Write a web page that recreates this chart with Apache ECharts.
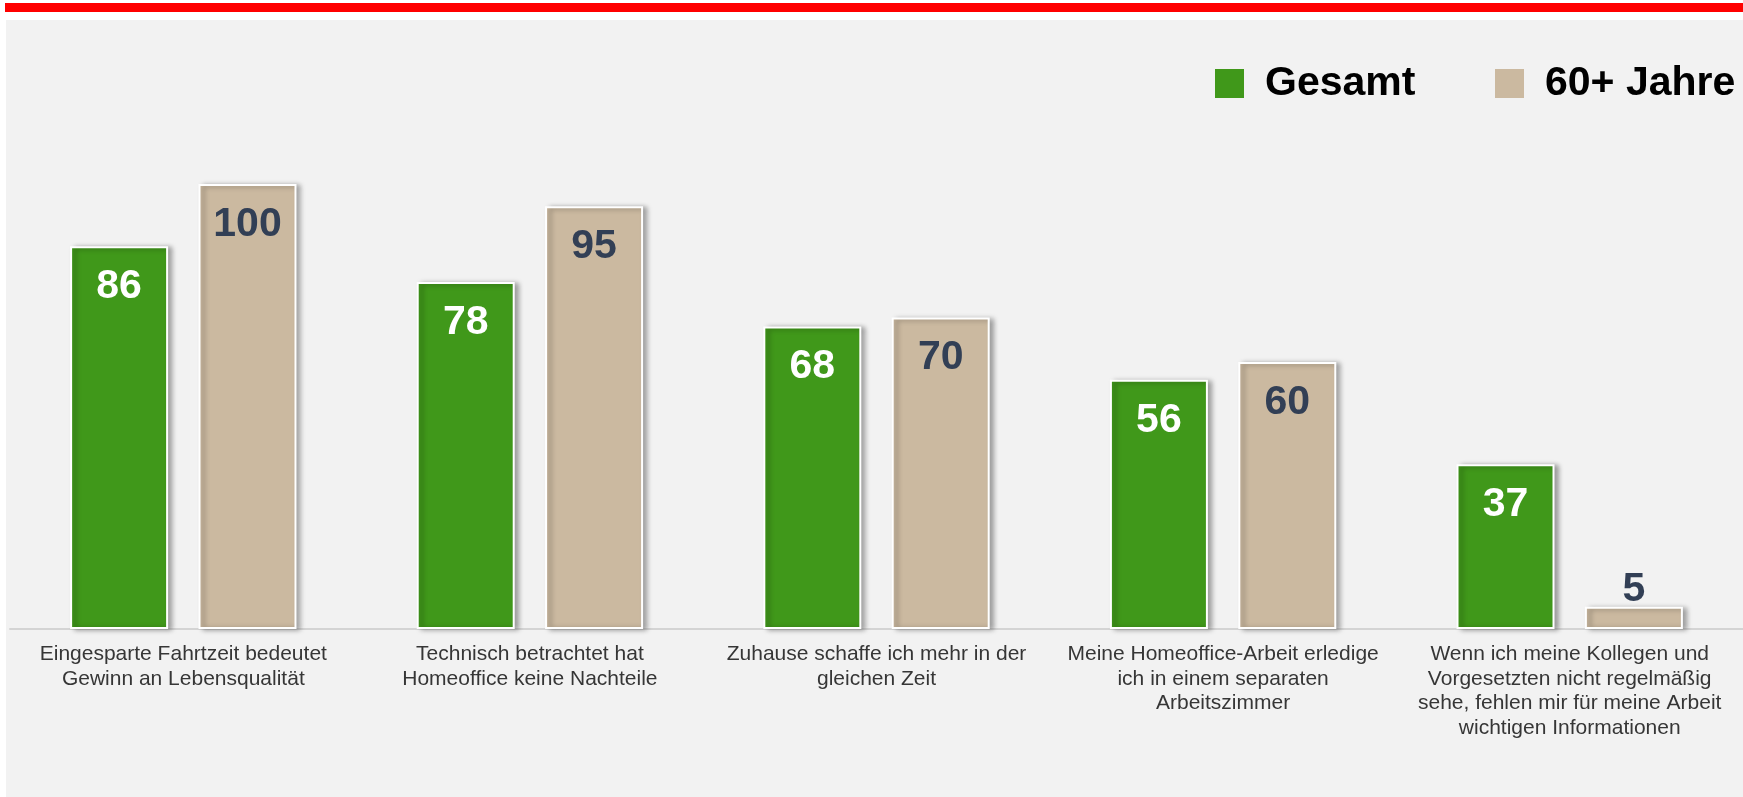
<!DOCTYPE html>
<html>
<head>
<meta charset="utf-8">
<script src="https://cdn.jsdelivr.net/npm/echarts@6/dist/echarts.min.js"></script>
<style>
  html, body { margin: 0; padding: 0; background: #fff; }
  #main { width: 1743px; height: 797px; }
</style>
</head>
<body>
<div id="main"></div>
<script>
// data
var categories = [
    'Eingesparte Fahrtzeit bedeutet\nGewinn an Lebensqualität',
    'Technisch betrachtet hat\nHomeoffice keine Nachteile',
    'Zuhause schaffe ich mehr in der\ngleichen Zeit',
    'Meine Homeoffice-Arbeit erledige\nich in einem separaten\nArbeitszimmer',
    'Wenn ich meine Kollegen und\nVorgesetzten nicht regelmäßig\nsehe, fehlen mir für meine Arbeit\nwichtigen Informationen'
];
var seriesNames = ['Gesamt', '60+ Jahre'];
var gesamtValues = [86, 78, 68, 56, 37];
var seniorValues = [100, 95, 70, 60, 5];

var FONT = 'Arial, "Liberation Sans", sans-serif';

var myChart = echarts.init(document.getElementById('main'));

function barItems(values) {
    // short bars get their number above the bar
    return values.map(function (v) {
        return v < 15 ? { value: v, label: { position: 'top', distance: -3 } } : v;
    });
}

var barStyle = function (color) {
    return {
        color: color,
        borderColor: '#ffffff',
        borderWidth: 2,
        shadowColor: 'rgba(0,0,0,0.35)',
        shadowBlur: 5,
        shadowOffsetX: 4,
        shadowOffsetY: 1
    };
};

var valueLabel = function (color) {
    return {
        show: true,
        position: 'insideTop',
        distance: 20,
        fontFamily: FONT,
        fontSize: 41,
        fontWeight: 'bold',
        color: color
    };
};

// one legend per item so the second one is not wrapped onto a new line
var legendFor = function (name, left) {
    return {
        left: left,
        top: 58,
        icon: 'rect',
        itemWidth: 29,
        itemHeight: 29,
        data: [name],
        itemStyle: { borderWidth: 0, shadowBlur: 0, shadowOffsetX: 0, shadowOffsetY: 0 },
        textStyle: {
            fontFamily: FONT,
            fontSize: 41,
            fontWeight: 'bold',
            color: '#000',
            lineHeight: 41,
            padding: [0, 0, 0, 16]
        }
    };
};

var option = {
    backgroundColor: '#ffffff',
    animation: false,
    graphic: [
        { type: 'rect', z: -10, silent: true, shape: { x: 5, y: 3, width: 1740, height: 9 },
          style: { fill: '#ff0000' } },
        { type: 'rect', z: -10, silent: true, shape: { x: 6, y: 20, width: 1740, height: 777 },
          style: { fill: '#f2f2f2' } }
    ],
    legend: [legendFor(seriesNames[0], 1210), legendFor(seriesNames[1], 1490)],
    grid: {
        left: 10,
        top: 184,
        width: 1736,
        bottom: 168
    },
    xAxis: {
        type: 'category',
        data: categories,
        axisTick: { show: false },
        axisLine: { lineStyle: { color: '#d4d4d4', width: 2 } },
        axisLabel: {
            interval: 0,
            margin: 13,
            fontFamily: FONT,
            fontSize: 21,
            lineHeight: 24.5,
            color: '#363636'
        }
    },
    yAxis: {
        type: 'value',
        min: 0,
        max: 100,
        show: false,
        splitLine: { show: false }
    },
    series: [
        {
            name: seriesNames[0],
            type: 'bar',
            barWidth: 98,
            barGap: '31%',
            itemStyle: barStyle('#40981a'),
            label: valueLabel('#ffffff'),
            data: barItems(gesamtValues)
        },
        {
            name: seriesNames[1],
            type: 'bar',
            barWidth: 98,
            barGap: '31%',
            itemStyle: barStyle('#cbb9a0'),
            label: valueLabel('#323f55'),
            data: barItems(seniorValues)
        }
    ]
};
myChart.setOption(option);
</script>
</body>
</html>
